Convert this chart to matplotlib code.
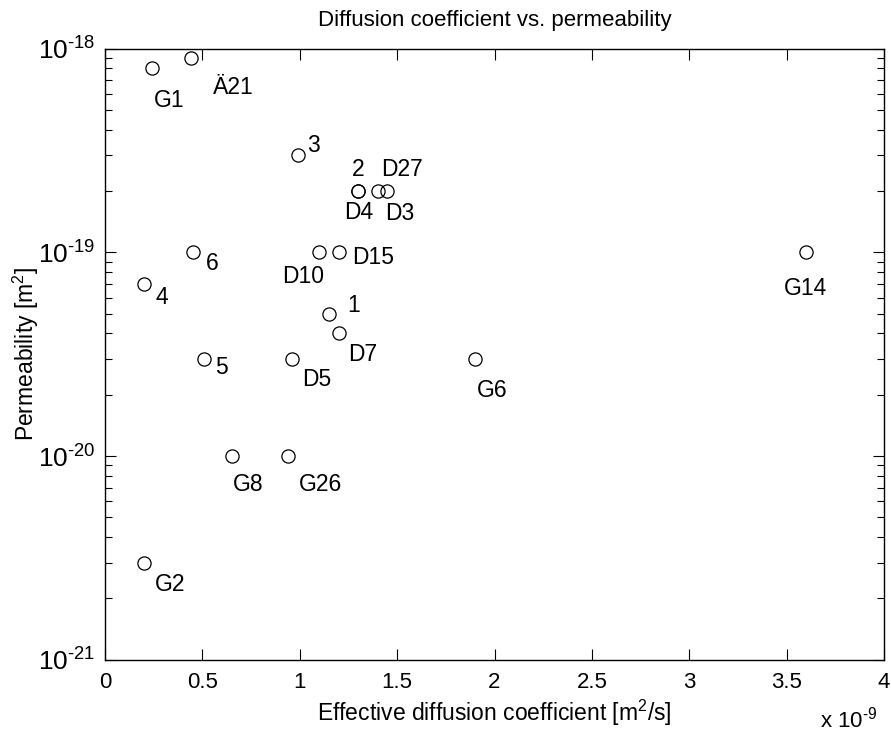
import matplotlib
matplotlib.use("Agg")
import numpy as np
from matplotlib import pyplot as plt
from matplotlib.ticker import LogLocator, NullFormatter, FixedLocator

plt.rcParams['font.family'] = ['Liberation Sans', 'DejaVu Sans']
plt.rcParams['mathtext.fontset'] = 'custom'
plt.rcParams['mathtext.rm'] = 'Liberation Sans'
plt.rcParams['mathtext.it'] = 'Liberation Sans'
plt.rcParams['axes.unicode_minus'] = False

# %% data (diffusion coefficient in 1e-9 m2/s, permeability in m2)
names = ['G1', 'Ä21', '3', '2', 'D4', 'D27', 'D3', '6', 'D10', 'D15', 'G14',
         '4', '1', 'D7', '5', 'D5', 'G6', 'G8', 'G26', 'G2']
d_eff = [0.24, 0.44, 0.99, 1.30, 1.30, 1.45, 1.40, 0.45, 1.10, 1.20, 3.60,
         0.20, 1.15, 1.20, 0.51, 0.96, 1.90, 0.65, 0.94, 0.20]
perm = [8e-19, 9e-19, 3e-19, 2e-19, 2e-19, 2e-19, 2e-19, 1e-19, 1e-19, 1e-19, 1e-19,
        7e-20, 5e-20, 4e-20, 3e-20, 3e-20, 3e-20, 1e-20, 1e-20, 3e-21]

# label offsets in pixels (dx right, dy up)
offs = {'G1': (17, -32), 'Ä21': (42, -29), '3': (16, 10), '2': (0, 22), 'D4': (0, -21),
        'D27': (15, 22), 'D3': (22, -22), '6': (20, -11), 'D10': (-16, -24),
        'D15': (34, -5), 'G14': (0, -36), '4': (18, -14), '1': (25, 8), 'D7': (24, -21),
        '5': (17, -9), 'D5': (25, -21), 'G6': (17, -32), 'G8': (17, -28),
        'G26': (32, -28), 'G2': (26, -22)}

hy = '\u2010'
ytl = [r'$10^{%s21}$' % hy, r'$10^{%s20}$' % hy, r'$10^{%s19}$' % hy, r'$10^{%s18}$' % hy]

fig = plt.figure(figsize=(8.91, 7.38), dpi=100)
ax = fig.add_axes([0.118, 0.106, 0.874, 0.828])

ax.plot(d_eff, perm, 'o', mfc='none', mec='black', ms=9.5, mew=0.9)
for n, x, y in zip(names, d_eff, perm):
    dx, dy = offs[n]
    ax.annotate(n, (x, y), xytext=(dx, dy), textcoords='offset pixels',
                ha='center', va='center', fontsize=16.5)

ax.set_yscale('log')
ax.set_xlim(0, 4)
ax.set_ylim(1e-21, 1e-18)
ax.xaxis.set_major_locator(FixedLocator(np.arange(0, 4.01, 0.5)))
ax.set_xticklabels(['0', '0.5', '1', '1.5', '2', '2.5', '3', '3.5', '4'])
ax.yaxis.set_major_locator(FixedLocator([1e-21, 1e-20, 1e-19, 1e-18]))
ax.set_yticklabels(ytl)
ax.yaxis.set_minor_locator(LogLocator(base=10, subs=np.arange(2, 10), numticks=20))
ax.yaxis.set_minor_formatter(NullFormatter())
ax.tick_params(which='both', direction='in', top=True, right=True, labelsize=16, width=0.8)
ax.tick_params(which='major', length=8)
ax.tick_params(which='minor', length=5)
ax.tick_params(axis='x', pad=9)
ax.tick_params(axis='y', pad=7, labelsize=19)
for s in ax.spines.values():
    s.set_linewidth(1.0)

ax.set_title('Diffusion coefficient vs. permeability', fontsize=16, pad=16)
ax.set_xlabel('Effective diffusion coefficient [m$^2$/s]', fontsize=16.5, labelpad=3)
ax.set_ylabel('Permeability [m$^2$]', fontsize=16.5)
ax.yaxis.set_label_coords(-0.083, 0.5)
fig.text(0.953, 0.025, r'x $10^{%s9}$' % hy, fontsize=16, ha='center', va='center')

plt.savefig('out.png', dpi=100)
